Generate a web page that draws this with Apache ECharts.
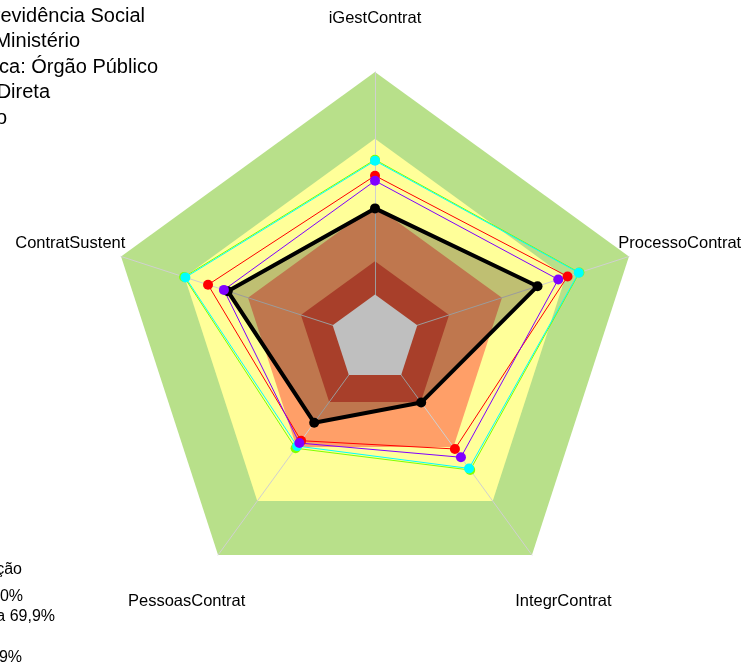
<!DOCTYPE html>
<html>
<head>
<meta charset="utf-8">
<script src="https://cdn.jsdelivr.net/npm/echarts@6/dist/echarts.min.js"></script>
<style>
  html, body { margin: 0; padding: 0; background: #ffffff; }
  #chart { width: 748px; height: 668px; }
</style>
</head>
<body>
<div id="chart"></div>
<script>
// Dimensions of the governance index, first at the top, then counter-clockwise
const dimensions = ['iGestContrat', 'ContratSustent', 'PessoasContrat', 'IntegrContrat', 'ProcessoContrat'];

// Scores (%) per dimension, same order as above
const orgScores    = [38.7, 49.6, 26.5, 15.3, 56.8];
const redScores    = [53.4, 58.9, 36.5, 41.1, 71.0];
const limeScores   = [60.6, 70.2, 40.7, 52.8, 76.6];
const cyanScores   = [60.1, 69.6, 39.5, 51.9, 76.3];
const violetScores = [51.1, 51.4, 37.8, 45.7, 66.6];

// Upper limits (%) of the classification bands, outermost first
const bandLimits = [100, 70, 40, 15];
const centerLimit = 0;

// Header and legend lines
const headerLines = [
  'Organização: Ministério da Previdência Social',
  'Segmento: Ministério',
  'Natureza Jurídica: Órgão Público',
  'Administração: Direta',
  'Poder: Executivo'
];
const legendLines = [
  'Classificação',
  'Aprimorado: 70% a 100%',
  'Intermediário: 40% a 69,9%',
  'Iniciando: 15% a 39,9%'
];

// ---- layout & style ----
const CX = 375, CY = 339, R = 267;
const AXIS_MIN = -20, AXIS_MAX = 100;
const bandColors = ['#B8E08A', '#FFFF99', '#FF9F68', '#E05538'];
const FONT = '"Liberation Sans", Arial, sans-serif';

const chart = echarts.init(document.getElementById('chart'), null, { renderer: 'canvas' });

const bandSeries = {
  type: 'radar', z: 1, silent: true,
  symbol: 'none',
  emphasis: { disabled: true },
  data: bandLimits.map((v, i) => ({
    value: dimensions.map(() => v),
    lineStyle: { width: 0, opacity: 0 },
    areaStyle: { color: bandColors[i], opacity: 1 }
  }))
};

const centerSeries = {
  type: 'radar', z: 4, silent: true, symbol: 'none',
  emphasis: { disabled: true },
  data: [{
    value: dimensions.map(() => centerLimit),
    lineStyle: { width: 0, opacity: 0 },
    areaStyle: { color: '#ffffff', opacity: 1 }
  }]
};

function scoreSeries(name, values, color, width, size, fill) {
  const item = {
    name: name,
    value: values,
    symbol: 'circle',
    symbolSize: size,
    lineStyle: { color: color, width: width },
    itemStyle: { color: color }
  };
  if (fill) item.areaStyle = { color: fill, opacity: 1 };
  return {
    type: 'radar', z: 5, silent: true,
    emphasis: { disabled: true },
    data: [item]
  };
}

const nameGraphics = dimensions.map((name, i) => {
  const ang = (90 + 72 * i) * Math.PI / 180;
  const dy = i === 0 ? 0 : 3;
  return {
    type: 'text',
    x: CX + 1.2 * R * Math.cos(ang),
    y: CY - 1.2 * R * Math.sin(ang) + dy,
    style: {
      text: name, fill: '#000', font: '16.5px ' + FONT,
      textAlign: 'center', textVerticalAlign: 'middle'
    }
  };
});

const headerRight = [145, 80, 158, 50, 7];
const headerGraphics = headerLines.map((t, i) => ({
  type: 'text', x: headerRight[i], y: 16 + 25.5 * i,
  style: { text: t, fill: '#000', font: '20px ' + FONT, textAlign: 'right', textVerticalAlign: 'middle' }
}));

const legendRight = [22, 23, 55, 22];
const legendY = [570, 597, 617, 658];
const legendGraphics = legendLines.map((t, i) => ({
  type: 'text', x: legendRight[i], y: legendY[i],
  style: { text: t, fill: '#000', font: '16px ' + FONT, textAlign: 'right', textVerticalAlign: 'middle' }
}));

chart.setOption({
  animation: false,
  backgroundColor: '#ffffff',
  radar: {
    z: 3,
    center: [CX, CY],
    radius: R,
    startAngle: 90,
    shape: 'polygon',
    splitNumber: 5,
    indicator: dimensions.map(n => ({ name: n, min: AXIS_MIN, max: AXIS_MAX })),
    axisName: { show: false },
    axisLine: { show: true, lineStyle: { color: '#D0D0D0', width: 1 } },
    splitLine: { show: false },
    splitArea: { show: false },
    axisTick: { show: false },
    axisLabel: { show: false }
  },
  series: [
    bandSeries,
    centerSeries,
    scoreSeries('Organização', orgScores, '#000000', 4, 10, 'rgba(0,0,0,0.25)'),
    scoreSeries('Grupo A', redScores, '#FF0000', 1, 10),
    scoreSeries('Grupo B', limeScores, '#80FF00', 1, 10),
    scoreSeries('Grupo C', cyanScores, '#00FFFF', 1, 10),
    scoreSeries('Grupo D', violetScores, '#8000FF', 1, 10)
  ],
  graphic: [].concat(nameGraphics, headerGraphics, legendGraphics)
});
</script>
</body>
</html>
